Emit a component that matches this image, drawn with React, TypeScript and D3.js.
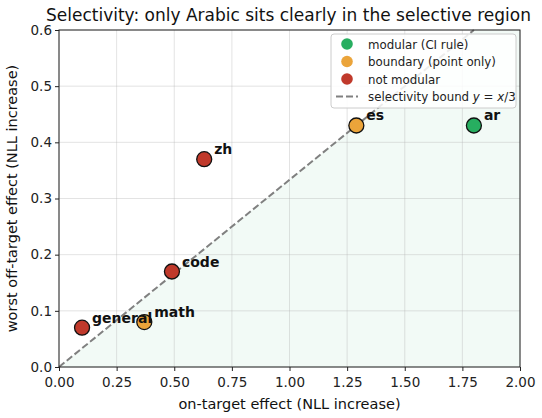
import { useRef, useEffect } from 'react';
import * as d3 from 'd3';

const names = ['general', 'math', 'code', 'zh', 'es', 'ar'];
const onTarget = [0.1, 0.37, 0.49, 0.63, 1.29, 1.8];
const offTarget = [0.07, 0.08, 0.17, 0.37, 0.43, 0.43];
const status = ['not', 'boundary', 'not', 'not', 'boundary', 'modular'];
const xTicks = [0, 0.25, 0.5, 0.75, 1, 1.25, 1.5, 1.75, 2];
const yTicks = [0, 0.1, 0.2, 0.3, 0.4, 0.5, 0.6];

const colors: Record<string, string> = {
  modular: '#27ae60',
  boundary: '#eba43a',
  not: '#c0392b',
};

const W = 542;
const H = 418;
const FONT = 'DejaVu Sans, sans-serif';

export default function App() {
  const svgRef = useRef<SVGSVGElement>(null);

  useEffect(() => {
    const svg = d3.select(svgRef.current);
    svg.selectAll('*').remove();

    const m = { left: 59, right: 520, top: 30, bottom: 367 };
    const x = d3.scaleLinear().domain([0, 2]).range([m.left, m.right]);
    const y = d3.scaleLinear().domain([0, 0.6]).range([m.bottom, m.top]);

    svg.append('rect').attr('width', W).attr('height', H).attr('fill', '#fff');

    // selective region under y = x/3
    const region: [number, number][] = [[0, 0], [1.8, 0.6], [2, 0.6], [2, 0]];
    svg.append('path')
      .attr('d', d3.line<[number, number]>().x((d) => x(d[0])).y((d) => y(d[1]))(region) + 'Z')
      .attr('fill', '#27ae60')
      .attr('fill-opacity', 0.06);

    // grid
    svg.selectAll('.gx').data(xTicks).join('line')
      .attr('x1', (d) => x(d)).attr('x2', (d) => x(d))
      .attr('y1', m.top).attr('y2', m.bottom)
      .attr('stroke', '#b0b0b0').attr('stroke-opacity', 0.4).attr('stroke-width', 0.9);
    svg.selectAll('.gy').data(yTicks).join('line')
      .attr('y1', (d) => y(d)).attr('y2', (d) => y(d))
      .attr('x1', m.left).attr('x2', m.right)
      .attr('stroke', '#b0b0b0').attr('stroke-opacity', 0.4).attr('stroke-width', 0.9);

    // bound line
    svg.append('line')
      .attr('x1', x(0)).attr('y1', y(0)).attr('x2', x(1.8)).attr('y2', y(0.6))
      .attr('stroke', '#808080').attr('stroke-width', 2).attr('stroke-dasharray', '7,3');

    // axes
    const xAxis = svg.append('g').attr('transform', `translate(0,${m.bottom})`)
      .call(d3.axisBottom(x).tickValues(xTicks).tickFormat(d3.format('.2f')).tickSize(4).tickSizeOuter(0));
    const yAxis = svg.append('g').attr('transform', `translate(${m.left},0)`)
      .call(d3.axisLeft(y).tickValues(yTicks).tickFormat(d3.format('.1f')).tickSize(4).tickSizeOuter(0));
    [xAxis, yAxis].forEach((a) => {
      a.select('.domain').remove();
      a.selectAll('text').attr('font-family', FONT).attr('font-size', 13.5).attr('fill', '#222');
      a.selectAll('line').attr('stroke', '#222');
    });
    xAxis.selectAll('text').attr('y', 7).attr('dy', '0.95em');
    yAxis.selectAll('text').attr('x', -7);

    svg.append('rect')
      .attr('x', m.left).attr('y', m.top)
      .attr('width', m.right - m.left).attr('height', m.bottom - m.top)
      .attr('fill', 'none').attr('stroke', '#222').attr('stroke-width', 1);

    // points
    svg.selectAll('.pt').data(names).join('circle')
      .attr('cx', (_, i) => x(onTarget[i]))
      .attr('cy', (_, i) => y(offTarget[i]))
      .attr('r', 7.5)
      .attr('fill', (_, i) => colors[status[i]])
      .attr('stroke', '#111').attr('stroke-width', 1.3);

    svg.selectAll('.lbl').data(names).join('text')
      .attr('x', (_, i) => x(onTarget[i]) + 10)
      .attr('y', (_, i) => y(offTarget[i]) - 5)
      .attr('font-family', FONT).attr('font-size', 14).attr('font-weight', 'bold')
      .attr('fill', '#111')
      .text((d) => d);

    // labels
    svg.append('text')
      .attr('x', (m.left + m.right) / 2 - 1).attr('y', 21)
      .attr('text-anchor', 'middle')
      .attr('font-family', FONT).attr('font-size', 17).attr('fill', '#111')
      .text('Selectivity: only Arabic sits clearly in the selective region');
    svg.append('text')
      .attr('x', (m.left + m.right) / 2).attr('y', 409)
      .attr('text-anchor', 'middle')
      .attr('font-family', FONT).attr('font-size', 14.5).attr('fill', '#111')
      .text('on-target effect (NLL increase)');
    svg.append('text')
      .attr('transform', `translate(17,${(m.top + m.bottom) / 2}) rotate(-90)`)
      .attr('text-anchor', 'middle')
      .attr('font-family', FONT).attr('font-size', 14.5).attr('fill', '#111')
      .text('worst off-target effect (NLL increase)');

    // legend
    const lg = svg.append('g').attr('transform', 'translate(331,34)');
    lg.append('rect')
      .attr('width', 185).attr('height', 74).attr('rx', 3)
      .attr('fill', '#fff').attr('fill-opacity', 0.85)
      .attr('stroke', '#ccc').attr('stroke-width', 1);
    const items = [
      { label: 'modular (CI rule)', color: colors.modular },
      { label: 'boundary (point only)', color: colors.boundary },
      { label: 'not modular', color: colors.not },
    ];
    items.forEach((it, i) => {
      lg.append('circle').attr('cx', 16).attr('cy', 10 + i * 17.5).attr('r', 5.8).attr('fill', it.color);
      lg.append('text')
        .attr('x', 37).attr('y', 14.5 + i * 17.5)
        .attr('font-family', FONT).attr('font-size', 11.8).attr('fill', '#222')
        .text(it.label);
    });
    lg.append('line')
      .attr('x1', 5).attr('x2', 27).attr('y1', 62.5).attr('y2', 62.5)
      .attr('stroke', '#808080').attr('stroke-width', 2).attr('stroke-dasharray', '7,3');
    const t = lg.append('text')
      .attr('x', 37).attr('y', 67)
      .attr('font-family', FONT).attr('font-size', 11.8).attr('fill', '#222');
    t.append('tspan').text('selectivity bound ');
    t.append('tspan').attr('font-style', 'italic').text('y');
    t.append('tspan').text(' = ');
    t.append('tspan').attr('font-style', 'italic').text('x');
    t.append('tspan').text('/3');
  }, []);

  return <svg ref={svgRef} width={W} height={H} style={{ display: 'block', position: 'absolute', left: 0, top: 0 }} />;
}
